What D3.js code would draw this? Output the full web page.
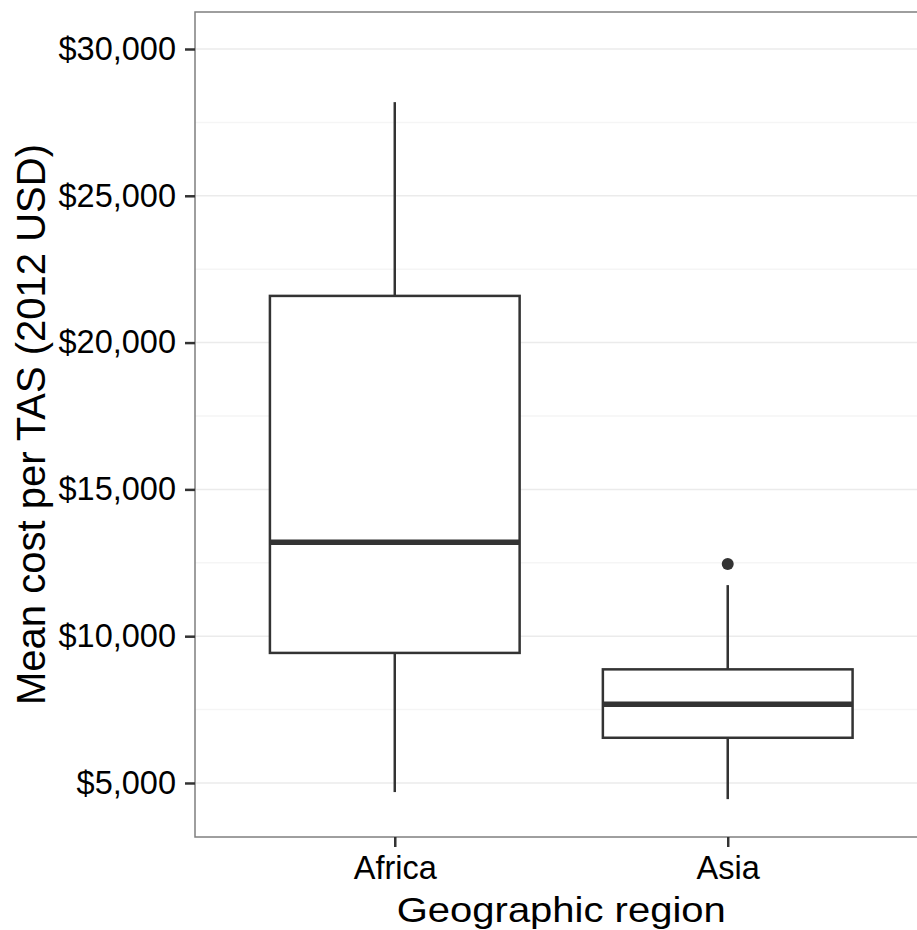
<!DOCTYPE html>
<html>
<head>
<meta charset="utf-8">
<script src="https://cdn.jsdelivr.net/npm/d3@7"></script>
<style>
  body { margin: 0; background: #fff; }
  text { font-family: Arial, "Liberation Sans", sans-serif; }
</style>
</head>
<body>
<div id="chart"></div>
<script>
// data
const regions = ["Africa", "Asia"];
const lowerWhisker = [4690, 4450];
const q1 = [9430, 6540];
const median = [13200, 7680];
const q3 = [21590, 8870];
const upperWhisker = [28190, 11740];
const outliers = [[], [12460]];
const yTicks = [5000, 10000, 15000, 20000, 25000, 30000];
const yMinorTicks = [7500, 12500, 17500, 22500, 27500];

const width = 917;
const height = 930;
const panel = {left: 195, right: 927.5, top: 12, bottom: 837};

const svg = d3.select("#chart")
  .append("svg")
    .attr("width", width)
    .attr("height", height);

svg.append("rect")
  .attr("width", width)
  .attr("height", height)
  .attr("fill", "#fff");

// scales
const xScale = d3.scalePoint()
  .domain(regions)
  .range([panel.left, panel.right])
  .padding(0.6);

const yScale = d3.scaleLinear()
  .domain([3160, 31260])
  .range([panel.bottom, panel.top]);

const boxWidth = xScale.step() * 0.75;

// grid lines
svg.append("g")
  .selectAll("line")
  .data(yMinorTicks)
  .join("line")
    .attr("x1", panel.left)
    .attr("x2", panel.right)
    .attr("y1", d => yScale(d))
    .attr("y2", d => yScale(d))
    .attr("stroke", "#f5f5f5")
    .attr("stroke-width", 1.5);

svg.append("g")
  .selectAll("line")
  .data(yTicks)
  .join("line")
    .attr("x1", panel.left)
    .attr("x2", panel.right)
    .attr("y1", d => yScale(d))
    .attr("y2", d => yScale(d))
    .attr("stroke", "#ebebeb")
    .attr("stroke-width", 1.5);

// boxes
const boxes = regions.map((r, i) => ({
  region: r, lo: lowerWhisker[i], q1: q1[i], med: median[i], q3: q3[i], hi: upperWhisker[i], out: outliers[i]
}));

const boxG = svg.append("g")
  .selectAll("g")
  .data(boxes)
  .join("g");

// whiskers
boxG.append("line")
  .attr("x1", d => xScale(d.region))
  .attr("x2", d => xScale(d.region))
  .attr("y1", d => yScale(d.q3))
  .attr("y2", d => yScale(d.hi))
  .attr("stroke", "#333")
  .attr("stroke-width", 2.5);

boxG.append("line")
  .attr("x1", d => xScale(d.region))
  .attr("x2", d => xScale(d.region))
  .attr("y1", d => yScale(d.q1))
  .attr("y2", d => yScale(d.lo))
  .attr("stroke", "#333")
  .attr("stroke-width", 2.5);

boxG.append("rect")
  .attr("x", d => xScale(d.region) - boxWidth / 2)
  .attr("width", boxWidth)
  .attr("y", d => yScale(d.q3))
  .attr("height", d => yScale(d.q1) - yScale(d.q3))
  .attr("fill", "#fff")
  .attr("stroke", "#333")
  .attr("stroke-width", 2.5);

boxG.append("line")
  .attr("x1", d => xScale(d.region) - boxWidth / 2)
  .attr("x2", d => xScale(d.region) + boxWidth / 2)
  .attr("y1", d => yScale(d.med))
  .attr("y2", d => yScale(d.med))
  .attr("stroke", "#333")
  .attr("stroke-width", 5.5);

boxG.selectAll("circle")
  .data(d => d.out.map(v => ({region: d.region, v})))
  .join("circle")
    .attr("cx", d => xScale(d.region))
    .attr("cy", d => yScale(d.v))
    .attr("r", 6)
    .attr("fill", "#333");

// panel border
svg.append("rect")
  .attr("x", panel.left)
  .attr("y", panel.top)
  .attr("width", panel.right - panel.left)
  .attr("height", panel.bottom - panel.top)
  .attr("fill", "none")
  .attr("stroke", "#7f7f7f")
  .attr("stroke-width", 1.5);

// axes
const leftAxis = d3.axisLeft(yScale)
  .tickValues(yTicks)
  .tickSize(10)
  .tickPadding(9)
  .tickFormat(d => "$" + d3.format(",")(d));

const yAxisG = svg.append("g")
  .attr("transform", `translate(${panel.left}, 0)`)
  .call(leftAxis);
yAxisG.select(".domain").remove();
yAxisG.selectAll(".tick line").attr("stroke", "#333").attr("stroke-width", 2.5);
yAxisG.selectAll(".tick text")
  .attr("fill", "#000")
  .style("font-size", "32.5px")
  .style("font-family", "Arial, 'Liberation Sans', sans-serif");

const bottomAxis = d3.axisBottom(xScale)
  .tickSize(10)
  .tickPadding(9);

const xAxisG = svg.append("g")
  .attr("transform", `translate(0, ${panel.bottom})`)
  .call(bottomAxis);
xAxisG.select(".domain").remove();
xAxisG.selectAll(".tick line").attr("stroke", "#333").attr("stroke-width", 2.5);
xAxisG.selectAll(".tick text")
  .attr("fill", "#000")
  .style("font-size", "32.5px")
  .style("font-family", "Arial, 'Liberation Sans', sans-serif");

// axis titles
svg.append("text")
  .text("Geographic region")
  .attr("text-anchor", "middle")
  .attr("transform", `translate(${(panel.left + panel.right) / 2}, 922) scale(1, 0.86)`)
  .attr("fill", "#000")
  .style("font-size", "40px");

svg.append("text")
  .text("Mean cost per TAS (2012 USD)")
  .attr("text-anchor", "middle")
  .attr("transform", `translate(45, ${(panel.top + panel.bottom) / 2}) rotate(-90)`)
  .attr("fill", "#000")
  .style("font-size", "40px");
</script>
</body>
</html>
